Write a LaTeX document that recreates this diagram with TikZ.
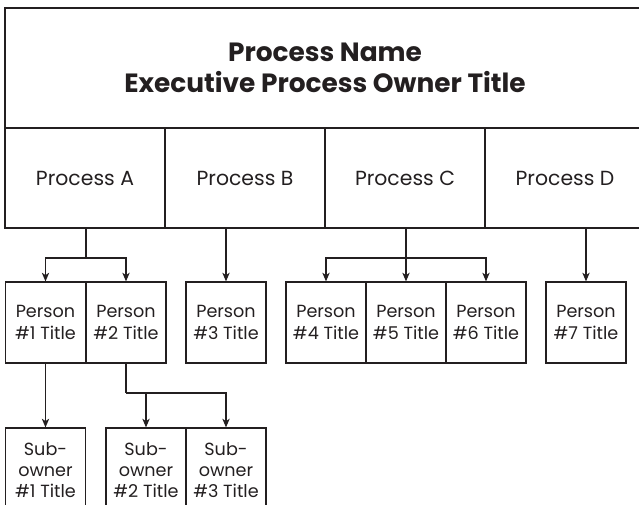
\documentclass[tikz,border=0pt]{standalone}
\usepackage{fontspec}
\setmainfont{Poppins}
\usetikzlibrary{arrows.meta}
\definecolor{ink}{RGB}{35,31,32}
\begin{document}
\begin{tikzpicture}[x=0.75pt,y=-0.75pt,
  hdr/.style={draw=ink,line width=1.3pt,rectangle,inner sep=0pt,minimum width=480pt,minimum height=90pt,align=center,text=ink,font=\bfseries\fontsize{19.8}{23.25}\selectfont},
  proc/.style={draw=ink,line width=1.3pt,rectangle,inner sep=0pt,minimum width=120pt,minimum height=75pt,align=center,text=ink,font=\fontsize{15.3}{16}\selectfont},
  pers/.style={draw=ink,line width=0.9pt,rectangle,inner sep=0pt,minimum width=60pt,minimum height=60.75pt,align=center,text=ink,font=\fontsize{13.2}{16.5}\selectfont},
  subo/.style={draw=ink,line width=0.9pt,rectangle,inner sep=0pt,minimum width=60pt,minimum height=63pt,align=center,text=ink,font=\fontsize{13.2}{15.75}\selectfont},
  conn/.style={draw=ink,line width=0.9pt},
  arr/.style={conn,-{Stealth[length=6.5pt,width=5.5pt,inset=1.8pt]}}]
\useasboundingbox (0,0) rectangle (639,505);
\clip (0,0) rectangle (639,505);
\node[hdr] (hd) at (325,68) {Process Name\\Executive Process Owner Title};
\node[proc] (pA) at (85,178) {Process A};
\node[proc] (pB) at (245,178) {Process B};
\node[proc] (pC) at (405,178) {Process C};
\node[proc] (pD) at (565,178) {Process D};
\node[pers] (p1) at (45.5,322.5) {Person\\\#1 Title};
\node[pers] (p2) at (126,322.5) {Person\\\#2 Title};
\node[pers] (p3) at (226,322.5) {Person\\\#3 Title};
\node[pers] (p4) at (326,322.5) {Person\\\#4 Title};
\node[pers] (p5) at (406,322.5) {Person\\\#5 Title};
\node[pers] (p6) at (486,322.5) {Person\\\#6 Title};
\node[pers] (p7) at (586,322.5) {Person\\\#7 Title};
\node[subo] (s1) at (45.5,470) {Sub-\\owner\\\#1 Title};
\node[subo] (s2) at (146,470) {Sub-\\owner\\\#2 Title};
\node[subo] (s3) at (226,470) {Sub-\\owner\\\#3 Title};
% connectors
\coordinate (jA) at (86,258);
\draw[conn] (jA |- pA.south) -- (jA);
\draw[arr] (jA) -| (p1.north);
\draw[arr] (jA) -| (p2.north);
\draw[arr] (pB.south -| p3.north) -- (p3.north);
\coordinate (jC) at (406,258);
\draw[conn] (jC |- pC.south) -- (jC);
\draw[arr] (jC) -| (p4.north);
\draw[arr] (jC) -- (p5.north);
\draw[arr] (jC) -| (p6.north);
\draw[arr] (pD.south -| p7.north) -- (p7.north);
\draw[arr] (p1.south) -- (s1.north);
\coordinate (j2) at (126,393);
\draw[conn] (p2.south) -- (j2);
\draw[arr] (j2) -| (s2.north);
\draw[arr] (j2) -| (s3.north);
\end{tikzpicture}
\end{document}
